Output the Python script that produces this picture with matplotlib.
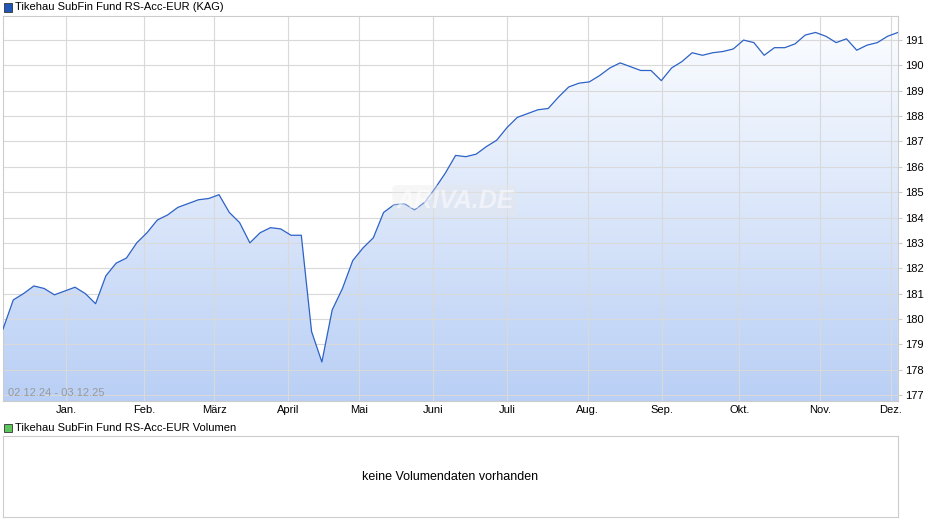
import matplotlib
matplotlib.use('Agg')
import matplotlib.pyplot as plt
import numpy as np
import pandas as pd
from matplotlib.patches import Rectangle

plt.rcParams['font.family'] = ['Liberation Sans', 'DejaVu Sans']

# price read at evenly spaced trading days from 02.12.24 to 03.12.25
prices = [179.6, 180.75, 181.0, 181.3, 181.2, 180.95, 181.1, 181.25, 181.0, 180.6,
          181.7, 182.2, 182.4, 183.0, 183.4, 183.9, 184.1, 184.4, 184.55, 184.7,
          184.75, 184.9, 184.2, 183.8, 183.0, 183.4, 183.6, 183.55, 183.3, 183.3,
          179.5, 178.3, 180.35, 181.2, 182.3, 182.8, 183.2, 184.2, 184.5, 184.55,
          184.3, 184.6, 185.15, 185.75, 186.45, 186.4, 186.5, 186.8, 187.05, 187.55,
          187.95, 188.1, 188.25, 188.3, 188.75, 189.15, 189.3, 189.35, 189.6, 189.9,
          190.1, 189.95, 189.8, 189.8, 189.4, 189.9, 190.15, 190.5, 190.4, 190.5,
          190.55, 190.65, 191.0, 190.9, 190.4, 190.7, 190.7, 190.85, 191.2, 191.3,
          191.15, 190.9, 191.05, 190.6, 190.8, 190.9, 191.15, 191.3]
holidays = ['2024-12-24', '2024-12-25', '2024-12-26', '2024-12-31', '2025-01-01',
            '2025-04-18', '2025-04-21', '2025-05-01']
month_labels = ['Jan.', 'Feb.', 'März', 'April', 'Mai', 'Juni', 'Juli', 'Aug.',
                'Sep.', 'Okt.', 'Nov.', 'Dez.']
yticks = list(range(177, 192))
title = 'Tikehau SubFin Fund RS-Acc-EUR (KAG)'
title2 = 'Tikehau SubFin Fund RS-Acc-EUR Volumen'

tdays = pd.bdate_range('2024-12-02', '2025-12-03')
tdays = tdays[~tdays.isin(pd.to_datetime(holidays))]
xmax = len(tdays) - 1
x = np.linspace(0, xmax, len(prices))
month_starts = pd.date_range('2025-01-01', '2025-12-01', freq='MS')
tick_idx = np.searchsorted(tdays, month_starts)

fig = plt.figure(figsize=(9.4, 5.26), dpi=100)
ax = fig.add_axes([0.0032, 0.2376, 0.952, 0.732])
ymin, ymax = 176.76, 191.95

# gradient fill under the line
grad = np.linspace(0, 1, 256).reshape(-1, 1)
cmap = matplotlib.colors.LinearSegmentedColormap.from_list('g', ['#b9cff5', '#fafcff'])
im = ax.imshow(grad, extent=[0, xmax, ymin, max(prices)], origin='lower',
               aspect='auto', cmap=cmap, zorder=1)
poly = ax.fill_between(x, prices, ymin, color='none')
im.set_clip_path(poly.get_paths()[0], transform=ax.transData)
ax.plot(x, prices, color='#2d62c6', lw=0.9, zorder=3)

ax.set_xlim(0, xmax)
ax.set_ylim(ymin, ymax)
ax.set_yticks(yticks)
ax.set_xticks(tick_idx)
ax.set_xticklabels(month_labels, fontsize=8)
ax.yaxis.tick_right()
ax.tick_params(axis='y', labelsize=8, length=3, color='#cccccc', pad=2)
ax.tick_params(axis='x', length=0, pad=3)
ax.grid(color='#d9d9d9', lw=0.8, zorder=2)
for s in ax.spines.values():
    s.set_color('#cccccc')
ax.text(0.006, 0.012, '02.12.24 - 03.12.25', transform=ax.transAxes,
        fontsize=8, color='#999999', zorder=4)
ax.text(0.505, 0.52, 'ARIVA.DE', transform=ax.transAxes, fontsize=18,
        fontweight='bold', fontstyle='italic', color='white', alpha=0.5,
        ha='center', va='center', zorder=4,
        bbox=dict(boxstyle='round,pad=0.15', fc='#e8e8e8', ec='none', alpha=0.35))

ax2 = fig.add_axes([0.0032, 0.017, 0.952, 0.154])
ax2.set_xticks([])
ax2.set_yticks([])
for s in ax2.spines.values():
    s.set_color('#cccccc')
ax2.text(0.5, 0.5, 'keine Volumendaten vorhanden', transform=ax2.transAxes,
         ha='center', va='center', fontsize=9)

fig.patches.append(Rectangle((0.004, 0.978), 0.0085, 0.016, transform=fig.transFigure,
                             facecolor='#1f56b8', edgecolor='#333333', lw=0.6))
fig.text(0.016, 0.986, title, fontsize=8, va='center')
fig.patches.append(Rectangle((0.004, 0.178), 0.0085, 0.016, transform=fig.transFigure,
                             facecolor='#5cc65c', edgecolor='#333333', lw=0.6))
fig.text(0.016, 0.186, title2, fontsize=8, va='center')

fig.savefig('out.png', dpi=100)
